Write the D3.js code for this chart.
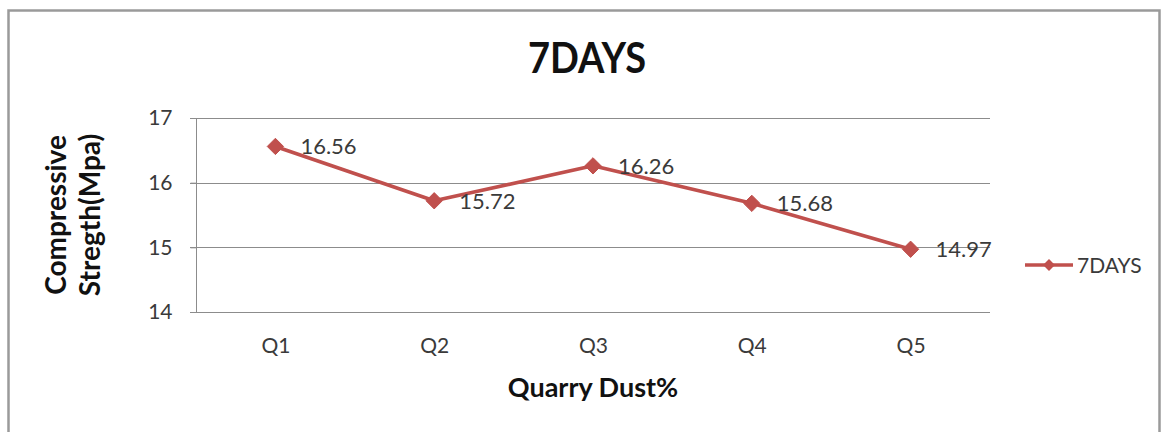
<!DOCTYPE html>
<html>
<head>
<meta charset="utf-8">
<script src="https://cdn.jsdelivr.net/npm/d3@7"></script>
<style>
  html, body { margin: 0; padding: 0; background: #fff; }
  svg { display: block; }
  text { font-family: Lato, "Open Sans", sans-serif; }
</style>
</head>
<body>
<svg id="chart" width="1163" height="432"></svg>
<script>
// ---- data ----
const categories = ["Q1", "Q2", "Q3", "Q4", "Q5"];
const values = [16.56, 15.72, 16.26, 15.68, 14.97];
const yTicks = [14, 15, 16, 17];
const seriesName = "7DAYS";
const chartTitle = "7DAYS";
const xTitle = "Quarry Dust%";
const yTitleLines = ["Compressive", "Stregth(Mpa)"];

// ---- layout ----
const W = 1163, H = 432;
const plot = { left: 196, right: 990, top: 118, bottom: 312 };
const red = "#C0504D";
const gridColor = "#8C8C8C";
const textColor = "#3A3A3A";

const svg = d3.select("#chart");

// outer border
svg.append("path")
  .attr("d", `M8.5,${H + 5} L8.5,10.5 L1159.5,10.5 L1159.5,${H + 5}`)
  .attr("fill", "none")
  .attr("stroke", "#9A9A9A")
  .attr("stroke-width", 2.5);

const x = d3.scalePoint().domain(categories).range([plot.left, plot.right]).padding(0.5);
const y = d3.scaleLinear().domain([14, 17]).range([plot.bottom, plot.top]);

// gridlines
svg.append("g")
  .selectAll("line")
  .data(yTicks)
  .join("line")
  .attr("x1", plot.left - 6)
  .attr("x2", plot.right)
  .attr("y1", d => Math.round(y(d)) + 0.5)
  .attr("y2", d => Math.round(y(d)) + 0.5)
  .attr("stroke", gridColor)
  .attr("stroke-width", 1);

// y axis
const yAxis = d3.axisLeft(y).tickValues(yTicks).tickSize(6).tickPadding(18).tickFormat(d3.format("d"));
const gy = svg.append("g").attr("transform", `translate(${plot.left + 0.5},0)`).call(yAxis);
gy.select(".domain").attr("stroke", gridColor).attr("d", `M0,${y(17)}V${y(14)}`);
gy.selectAll(".tick line").attr("stroke", gridColor);
gy.selectAll(".tick text")
  .attr("font-size", 21)
  .attr("fill", textColor)
  .style("font-family", "Lato, sans-serif");

// x axis labels
const xAxis = d3.axisBottom(x).tickSize(0).tickPadding(26);
const gx = svg.append("g").attr("transform", `translate(0,${plot.bottom + 0.5})`).call(xAxis);
gx.select(".domain").remove();
gx.selectAll(".tick text")
  .attr("font-size", 21)
  .attr("fill", textColor)
  .style("font-family", "Lato, sans-serif");

// series line
const line = d3.line()
  .x((d, i) => x(categories[i]))
  .y(d => y(d));
svg.append("path")
  .datum(values)
  .attr("d", line)
  .attr("fill", "none")
  .attr("stroke", red)
  .attr("stroke-width", 3.6)
  .attr("stroke-linejoin", "round");

// markers
const diamond = d3.symbol().type(d3.symbolDiamond2).size(170);
svg.append("g")
  .selectAll("path")
  .data(values)
  .join("path")
  .attr("d", diamond)
  .attr("transform", (d, i) => `translate(${x(categories[i])},${y(d)})`)
  .attr("fill", red)
  .attr("stroke", red)
  .attr("stroke-width", 1);

// data labels
svg.append("g")
  .selectAll("text")
  .data(values)
  .join("text")
  .attr("x", (d, i) => x(categories[i]) + 25)
  .attr("y", d => y(d) + 8)
  .attr("font-size", 22)
  .attr("fill", textColor)
  .text(d => d.toFixed(2));

// title
svg.append("text")
  .attr("transform", `translate(${(plot.left + plot.right) / 2 - 6},73) scale(1,1.1)`)
  .attr("text-anchor", "middle")
  .attr("font-size", 38)
  .attr("font-weight", "bold")
  .attr("fill", "#111")
  .text(chartTitle);

// x title
svg.append("text")
  .attr("x", (plot.left + plot.right) / 2)
  .attr("y", 397)
  .attr("text-anchor", "middle")
  .attr("font-size", 27)
  .attr("font-weight", "bold")
  .attr("fill", "#111")
  .text(xTitle);

// y title (two lines, rotated)
const yt = svg.append("text")
  .attr("transform", `translate(66,215) rotate(-90)`)
  .attr("text-anchor", "middle")
  .attr("font-size", 28)
  .attr("font-weight", "bold")
  .attr("fill", "#111");
yt.selectAll("tspan")
  .data(yTitleLines)
  .join("tspan")
  .attr("x", 0)
  .attr("dy", (d, i) => i === 0 ? 0 : 34)
  .text(d => d);

// legend
const lg = svg.append("g").attr("transform", "translate(1025,265)");
lg.append("line")
  .attr("x1", 0).attr("x2", 48)
  .attr("y1", 0).attr("y2", 0)
  .attr("stroke", red)
  .attr("stroke-width", 3.6);
lg.append("path")
  .attr("d", d3.symbol().type(d3.symbolDiamond2).size(90))
  .attr("transform", "translate(24,0)")
  .attr("fill", red);
lg.append("text")
  .attr("x", 52)
  .attr("y", 7.5)
  .attr("font-size", 21)
  .attr("fill", textColor)
  .text(seriesName);
</script>
</body>
</html>
